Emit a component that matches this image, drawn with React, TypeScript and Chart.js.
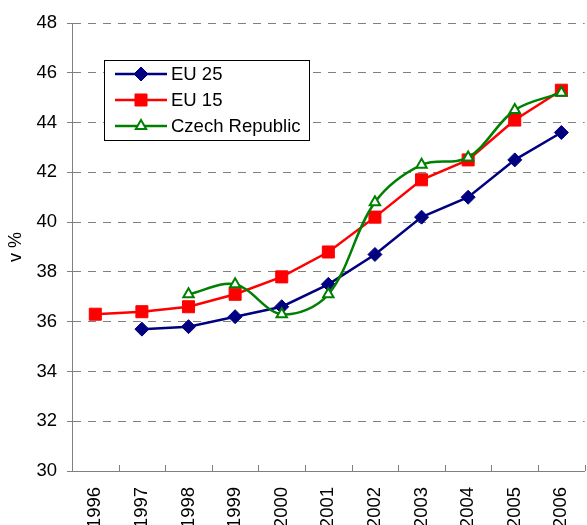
import React, { useEffect, useRef } from 'react';
import { Chart, registerables } from 'chart.js';

Chart.register(...registerables);

const years = ['1996', '1997', '1998', '1999', '2000', '2001', '2002', '2003', '2004', '2005', '2006'];
const eu25 = [null, 35.7, 35.8, 36.2, 36.6, 37.5, 38.7, 40.2, 41.0, 42.5, 43.6];
const eu15 = [36.3, 36.4, 36.6, 37.1, 37.8, 38.8, 40.2, 41.7, 42.5, 44.1, 45.3];
const czech = [null, null, 37.1, 37.5, 36.3, 37.1, 40.8, 42.3, 42.6, 44.5, 45.2];
const seriesNames = ['EU 25', 'EU 15', 'Czech Republic'];
const yMin = 30;
const yMax = 48;
const yStep = 2;
const yTitle = 'v %';

const FONT = "'Liberation Sans', Arial, sans-serif";
const GRID = '#808080';

function drawMarker(ctx: CanvasRenderingContext2D, ds: any, x: number, y: number) {
  const r = ds.pointRadius;
  ctx.save();
  ctx.setLineDash([]);
  ctx.fillStyle = ds.pointBackgroundColor;
  ctx.strokeStyle = ds.pointBorderColor;
  ctx.lineWidth = ds.pointBorderWidth;
  ctx.beginPath();
  if (ds.pointStyle === 'rectRot') {
    ctx.moveTo(x - r, y);
    ctx.lineTo(x, y - r);
    ctx.lineTo(x + r, y);
    ctx.lineTo(x, y + r);
    ctx.closePath();
  } else if (ds.pointStyle === 'rect') {
    const s = Math.SQRT1_2 * r;
    ctx.rect(x - s, y - s, 2 * s, 2 * s);
  } else {
    for (let k = 0; k < 3; k++) {
      const a = (k * 2 * Math.PI) / 3;
      const px = x + Math.sin(a) * r;
      const py = y - Math.cos(a) * r;
      if (k === 0) ctx.moveTo(px, py);
      else ctx.lineTo(px, py);
    }
    ctx.closePath();
  }
  ctx.fill();
  ctx.stroke();
  ctx.restore();
}

const boxLegend = {
  id: 'boxLegend',
  afterDraw(chart: any) {
    const { ctx, chartArea } = chart;
    const bx = Math.round(chartArea.left + 32);
    const by = Math.round(chartArea.top + 37);
    const bw = 205;
    const bh = 80;
    ctx.save();
    ctx.fillStyle = '#ffffff';
    ctx.fillRect(bx, by, bw, bh);
    ctx.strokeStyle = '#000000';
    ctx.lineWidth = 1;
    ctx.setLineDash([]);
    ctx.strokeRect(bx + 0.5, by + 0.5, bw, bh);
    chart.data.datasets.forEach((ds: any, i: number) => {
      const y = by + 14 + i * 26;
      ctx.strokeStyle = ds.borderColor;
      ctx.lineWidth = ds.borderWidth;
      ctx.beginPath();
      ctx.moveTo(bx + 11, y);
      ctx.lineTo(bx + 63, y);
      ctx.stroke();
      drawMarker(ctx, ds, bx + 37, y);
      ctx.fillStyle = '#000000';
      ctx.font = `18.5px ${FONT}`;
      ctx.textBaseline = 'middle';
      ctx.textAlign = 'left';
      ctx.fillText(ds.label, bx + 67, y + 1);
    });
    ctx.restore();
  },
};

const innerTicks = {
  id: 'innerTicks',
  afterDraw(chart: any) {
    const { ctx, chartArea } = chart;
    const xs = chart.scales.x;
    ctx.save();
    ctx.strokeStyle = GRID;
    ctx.lineWidth = 1;
    for (let i = 0; i <= years.length; i++) {
      const x = Math.round(xs.getPixelForValue(i - 0.5)) + 0.5;
      ctx.beginPath();
      ctx.moveTo(x, chartArea.bottom);
      ctx.lineTo(x, chartArea.bottom - 6);
      ctx.stroke();
    }
    ctx.restore();
  },
};

export default function App() {
  const ref = useRef<HTMLCanvasElement>(null);
  useEffect(() => {
    if (!ref.current) return;
    const chart = new Chart(ref.current, {
      type: 'line',
      data: {
        labels: years,
        datasets: [
          {
            label: seriesNames[0],
            data: eu25,
            borderColor: '#000080',
            backgroundColor: '#000080',
            borderWidth: 2.5,
            pointStyle: 'rectRot',
            pointRadius: 7,
            pointBackgroundColor: '#000080',
            pointBorderColor: '#000080',
            pointBorderWidth: 1,
            tension: 0,
            order: 2,
          },
          {
            label: seriesNames[1],
            data: eu15,
            borderColor: '#ff0000',
            backgroundColor: '#ff0000',
            borderWidth: 2.5,
            pointStyle: 'rect',
            pointRadius: 8.5,
            pointBackgroundColor: '#ff0000',
            pointBorderColor: '#ff0000',
            pointBorderWidth: 1,
            tension: 0,
            order: 1,
          },
          {
            label: seriesNames[2],
            data: czech,
            borderColor: '#008000',
            backgroundColor: '#ffffff',
            borderWidth: 2.5,
            pointStyle: 'triangle',
            pointRadius: 6,
            pointBackgroundColor: '#ffffff',
            pointBorderColor: '#008000',
            pointBorderWidth: 2,
            tension: 0.35,
            order: 0,
          },
        ] as any,
      },
      options: {
        responsive: false,
        animation: false,
        events: [],
        layout: { padding: { top: 23, right: 3, bottom: 0, left: 0 } },
        plugins: {
          legend: { display: false },
          tooltip: { enabled: false },
        },
        scales: {
          x: {
            type: 'category',
            offset: true,
            grid: { display: false, drawTicks: false },
            border: { display: true, color: GRID, width: 1 },
            ticks: {
              autoSkip: false,
              minRotation: 90,
              maxRotation: 90,
              padding: 16,
              color: '#000000',
              font: { family: FONT, size: 18.5 },
            },
            afterFit: (s: any) => {
              s.height = 54;
            },
          },
          y: {
            min: yMin,
            max: yMax,
            grid: {
              color: GRID,
              lineWidth: 1,
              drawTicks: true,
              tickLength: 5,
              tickColor: GRID,
            },
            border: { display: true, color: GRID, width: 1, dash: [8, 7] },
            ticks: {
              stepSize: yStep,
              padding: 10,
              color: '#000000',
              font: { family: FONT, size: 18.5 },
            },
            title: {
              display: true,
              text: yTitle,
              color: '#000000',
              font: { family: FONT, size: 18 },
              padding: { top: 5, bottom: 0 },
            },
            afterFit: (s: any) => {
              s.width = 72;
            },
          },
        },
      } as any,
      plugins: [innerTicks, boxLegend],
    });
    return () => chart.destroy();
  }, []);

  return (
    <div
      style={{
        position: 'fixed',
        left: 0,
        top: 0,
        width: 587,
        height: 525,
        overflow: 'hidden',
        background: '#ffffff',
      }}
    >
      <canvas ref={ref} width={600} height={525} style={{ display: 'block' }} />
    </div>
  );
}
